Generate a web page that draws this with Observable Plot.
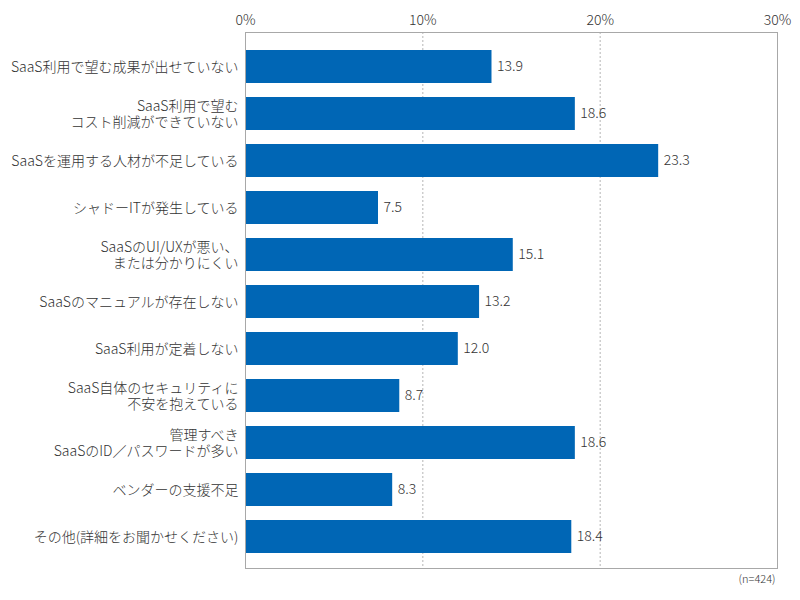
<!DOCTYPE html>
<html><head><meta charset="utf-8">
<script src="https://cdn.jsdelivr.net/npm/d3@7"></script>
<script src="https://cdn.jsdelivr.net/npm/@observablehq/plot@0.6"></script>
<style>body{margin:0;background:#fff;font-family:"Noto Sans CJK JP",sans-serif}</style>
</head><body><div id="chart"></div>
<script>
const categories = [
  "SaaS利用で望む成果が出せていない",
  "SaaS利用で望む\nコスト削減ができていない",
  "SaaSを運用する人材が不足している",
  "シャドーITが発生している",
  "SaaSのUI/UXが悪い、\nまたは分かりにくい",
  "SaaSのマニュアルが存在しない",
  "SaaS利用が定着しない",
  "SaaS自体のセキュリティに\n不安を抱えている",
  "管理すべき\nSaaSのID／パスワードが多い",
  "ベンダーの支援不足",
  "その他(詳細をお聞かせください)"
];
const values = [13.9, 18.6, 23.3, 7.5, 15.1, 13.2, 12.0, 8.7, 18.6, 8.3, 18.4];
const xTicks = [0, 10, 20, 30];
const gridTicks = [10, 20];
const caption = "(n=424)";

const data = categories.map((c, i) => ({category: c, value: values[i]}));
const fmt = d3.format(".1f");

const chart = Plot.plot({
  width: 800,
  height: 600,
  marginTop: 32,
  marginBottom: 32,
  marginLeft: 245,
  marginRight: 23,
  style: {fontFamily: '"Noto Sans CJK JP", sans-serif', fontSize: "14px", fontWeight: 300, color: "#333", background: "#fff"},
  x: {domain: [0, 30], label: null},
  y: {domain: categories, paddingInner: 0.3, paddingOuter: 0.25, insetTop: 3, label: null},
  marks: [
    Plot.gridX(gridTicks, {stroke: "#b5b5b5", strokeOpacity: 1, strokeDasharray: "2,2"}),
    Plot.barX(data, {y: "category", x: "value", fill: "#0066b5"}),
    Plot.frame({stroke: "#a8a8a8"}),
    Plot.axisX(xTicks, {anchor: "top", label: null, tickSize: 0, tickPadding: 8, tickFormat: d => d + "%", fontSize: 14, fontWeight: 300, fill: "#333"}),
    Plot.axisY({label: null, tickSize: 0, tickPadding: 7, lineHeight: 1.1, fontSize: 14, fontWeight: 300, fill: "#333"}),
    Plot.text(data, {y: "category", x: "value", text: d => fmt(d.value), textAnchor: "start", dx: 5, fontSize: 14, fontWeight: 300, fill: "#333"}),
    Plot.text([caption], {frameAnchor: "bottom-right", textAnchor: "end", lineAnchor: "middle", dy: 11, dx: -2, fontSize: 11, fontWeight: 300, fill: "#333"})
  ]
});
document.getElementById("chart").appendChild(chart);
</script>
</body></html>
